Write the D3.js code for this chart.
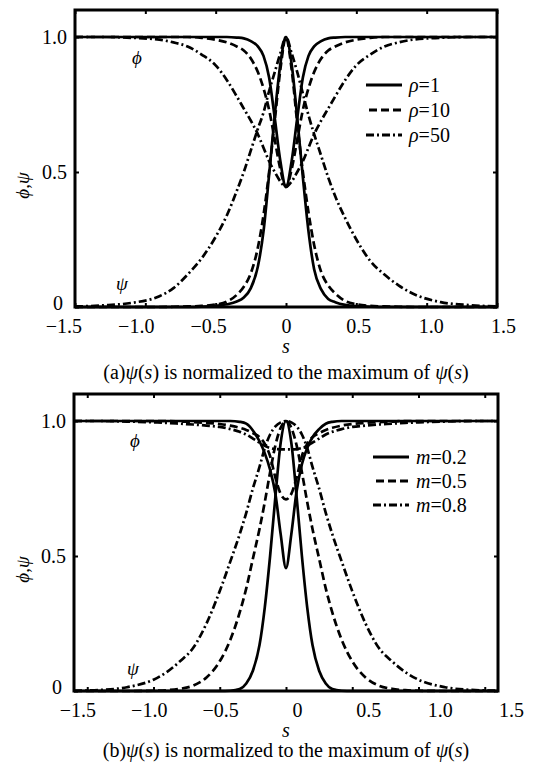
<!DOCTYPE html>
<html>
<head>
<meta charset="utf-8">
<script src="https://cdn.jsdelivr.net/npm/d3@7"></script>
<style>
  body { margin: 0; background: #fff; }
  text { font-family: 'Liberation Serif', 'Times New Roman', serif; fill: #000; white-space: pre; }
</style>
</head>
<body>
<div id="chart"></div>
<script>
// s values the curves were read at
let sTop = [-1.5, -1.3, -1.1, -0.9, -0.8, -0.7, -0.6, -0.5, -0.42, -0.35, -0.3, -0.25, -0.2, -0.16, -0.12, -0.08, -0.04, 0,
  0.04, 0.08, 0.12, 0.16, 0.2, 0.25, 0.3, 0.35, 0.42, 0.5, 0.6, 0.7, 0.8, 0.9, 1.1, 1.3, 1.5]
let sBottom = [-1.6, -1.4, -1.2, -1.0, -0.9, -0.8, -0.7, -0.6, -0.5, -0.42, -0.35, -0.3, -0.25, -0.2, -0.16, -0.12, -0.08, -0.04, 0,
  0.04, 0.08, 0.12, 0.16, 0.2, 0.25, 0.3, 0.35, 0.42, 0.5, 0.6, 0.7, 0.8, 0.9, 1.0, 1.2, 1.4, 1.6]

// (a) rho = 1, 10, 50
let psiRho1 = [0, 0, 0, 0, 0, 0, 0.001, 0.004, 0.01, 0.02, 0.035, 0.07, 0.15, 0.28, 0.49, 0.71, 0.9, 1.0,
  0.9, 0.7, 0.48, 0.28, 0.14, 0.065, 0.03, 0.018, 0.008, 0.003, 0.001, 0, 0, 0, 0, 0, 0]
let phiRho1 = [1, 1, 1, 1, 1, 1, 1, 1, 1, 0.998, 0.995, 0.985, 0.965, 0.93, 0.85, 0.7, 0.54, 0.445,
  0.54, 0.7, 0.85, 0.93, 0.965, 0.985, 0.995, 0.998, 1, 1, 1, 1, 1, 1, 1, 1, 1]
let psiRho10 = [0, 0, 0, 0, 0.001, 0.002, 0.004, 0.009, 0.02, 0.045, 0.075, 0.125, 0.22, 0.34, 0.5, 0.69, 0.88, 1.0,
  0.88, 0.68, 0.5, 0.35, 0.23, 0.13, 0.08, 0.05, 0.022, 0.01, 0.004, 0.002, 0.001, 0, 0, 0, 0]
let phiRho10 = [1, 1, 1, 1, 1, 1, 0.997, 0.99, 0.98, 0.965, 0.95, 0.92, 0.87, 0.81, 0.73, 0.62, 0.51, 0.445,
  0.51, 0.62, 0.73, 0.81, 0.87, 0.92, 0.95, 0.965, 0.98, 0.99, 0.997, 1, 1, 1, 1, 1, 1]
let psiRho50 = [0.002, 0.006, 0.015, 0.04, 0.07, 0.12, 0.18, 0.26, 0.34, 0.43, 0.5, 0.58, 0.66, 0.72, 0.8, 0.87, 0.94, 1.0,
  0.94, 0.87, 0.79, 0.71, 0.64, 0.56, 0.48, 0.41, 0.33, 0.25, 0.17, 0.12, 0.08, 0.05, 0.018, 0.007, 0.002]
let phiRho50 = [1, 1, 0.997, 0.99, 0.98, 0.965, 0.935, 0.895, 0.84, 0.78, 0.735, 0.69, 0.64, 0.59, 0.54, 0.5, 0.465, 0.445,
  0.465, 0.5, 0.54, 0.59, 0.64, 0.69, 0.735, 0.78, 0.84, 0.895, 0.935, 0.965, 0.98, 0.99, 0.997, 1, 1]

// (b) m = 0.2, 0.5, 0.8
let psiM02 = [0, 0, 0, 0, 0, 0, 0, 0, 0, 0.001, 0.007, 0.028, 0.075, 0.17, 0.31, 0.5, 0.72, 0.92, 1.0,
  0.92, 0.72, 0.5, 0.31, 0.17, 0.075, 0.028, 0.007, 0.001, 0, 0, 0, 0, 0, 0, 0, 0, 0]
let phiM02 = [1, 1, 1, 1, 1, 1, 1, 1, 1, 1, 0.997, 0.99, 0.965, 0.925, 0.88, 0.82, 0.73, 0.58, 0.455,
  0.58, 0.74, 0.84, 0.9, 0.94, 0.97, 0.99, 0.997, 1, 1, 1, 1, 1, 1, 1, 1, 1, 1]
let psiM05 = [0, 0, 0, 0.001, 0.003, 0.008, 0.02, 0.05, 0.11, 0.19, 0.29, 0.38, 0.49, 0.6, 0.7, 0.81, 0.91, 0.975, 1.0,
  0.975, 0.91, 0.81, 0.7, 0.6, 0.49, 0.38, 0.29, 0.19, 0.11, 0.05, 0.02, 0.008, 0.003, 0.001, 0, 0, 0]
let phiM05 = [1, 1, 1, 1, 1, 0.998, 0.996, 0.993, 0.989, 0.983, 0.975, 0.967, 0.955, 0.94, 0.915, 0.87, 0.79, 0.73, 0.71,
  0.73, 0.79, 0.87, 0.915, 0.94, 0.955, 0.967, 0.975, 0.983, 0.989, 0.993, 0.996, 0.998, 1, 1, 1, 1, 1]
let psiM08 = [0.001, 0.004, 0.014, 0.042, 0.07, 0.11, 0.16, 0.25, 0.37, 0.48, 0.58, 0.66, 0.75, 0.83, 0.9, 0.95, 0.98, 0.995, 1.0,
  0.995, 0.98, 0.95, 0.9, 0.83, 0.75, 0.66, 0.58, 0.48, 0.37, 0.25, 0.16, 0.11, 0.07, 0.042, 0.014, 0.004, 0.001]
let phiM08 = [1, 1, 0.998, 0.995, 0.993, 0.99, 0.987, 0.983, 0.978, 0.97, 0.96, 0.95, 0.935, 0.92, 0.908, 0.9, 0.896, 0.895, 0.895,
  0.895, 0.896, 0.9, 0.908, 0.92, 0.935, 0.95, 0.96, 0.97, 0.978, 0.983, 0.987, 0.99, 0.993, 0.995, 0.998, 1, 1]

let xTickValues = [-1.5, -1, -0.5, 0, 0.5, 1, 1.5]
let xTickLabels = ['\u22121.5', '\u22121.0', '\u22120.5', '0', '0.5', '1.0', '1.5']
let yTickValues = [0, 0.5, 1]
let yTickLabels = ['0', '0.5', '1.0']
let rhoLabels = ['1', '10', '50']
let mLabels = ['0.2', '0.5', '0.8']

let width = 552
let height = 770
let dashes = [null, '8,4', '8,3,2,3']

let svg = d3
  .select('#chart')
  .append('svg')
  .attr('width', width)
  .attr('height', height)

svg.append('rect').attr('width', width).attr('height', height).attr('fill', '#fff')

function addRich(sel, parts) {
  parts.forEach(p => {
    sel.append('tspan').attr('font-style', p[1] ? 'italic' : 'normal').text(p[0])
  })
  return sel
}

function panel(cfg) {
  let g = svg.append('g')
  let x = d3.scaleLinear().domain(cfg.xDomain).range(cfg.xRange)
  let y = d3.scaleLinear().domain([0, 1.1]).range([cfg.y0, cfg.y0 - 297])
  // the printed labels sit a little off the tick marks, so they get their own scale
  let xLab = d3.scaleLinear().domain([-1.5, 1.5]).range(cfg.labelRange)

  let line = d3
    .line()
    .x(d => x(d[0]))
    .y(d => y(d[1]))
    .curve(d3.curveMonotoneX)

  cfg.curves.forEach((c, i) => {
    ;[c.psi, c.phi].forEach(vals => {
      g.append('path')
        .datum(d3.zip(cfg.s, vals))
        .attr('d', line)
        .attr('fill', 'none')
        .attr('stroke', '#000')
        .attr('stroke-width', 2.7)
        .attr('stroke-dasharray', dashes[i])
    })
  })

  // frame
  g.append('rect')
    .attr('x', x.range()[0])
    .attr('y', y(1.1))
    .attr('width', x.range()[1] - x.range()[0])
    .attr('height', y(0) - y(1.1))
    .attr('fill', 'none')
    .attr('stroke', '#000')
    .attr('stroke-width', 3)

  // inward ticks on all four sides
  let ticks = [
    [d3.axisTop(x).tickValues(xTickValues), `translate(0,${y(0)})`],
    [d3.axisBottom(x).tickValues(xTickValues), `translate(0,${y(1.1)})`],
    [d3.axisRight(y).tickValues(yTickValues), `translate(${x.range()[0]},0)`],
    [d3.axisLeft(y).tickValues(yTickValues), `translate(${x.range()[1]},0)`]
  ]
  ticks.forEach(t => {
    let a = g.append('g').attr('transform', t[1]).call(t[0].tickSize(4).tickFormat(''))
    a.select('.domain').remove()
    a.selectAll('line').attr('stroke-width', 2)
  })

  // tick labels
  let xa = g
    .append('g')
    .attr('transform', `translate(0,${y(0) + 12})`)
    .call(d3.axisBottom(xLab).tickValues(xTickValues).tickSize(0).tickPadding(0)
      .tickFormat((d, i) => xTickLabels[i]))
  xa.select('.domain').remove()
  xa.selectAll('text')
    .attr('font-size', 20)
    .attr('font-family', null)
    .attr('dx', d => (d < 0 ? '-0.28em' : null))

  let ya = g
    .append('g')
    .attr('transform', `translate(${x.range()[0] - 8},0)`)
    .call(d3.axisLeft(y).tickValues(yTickValues).tickSize(0).tickPadding(0)
      .tickFormat((d, i) => yTickLabels[i]))
  ya.select('.domain').remove()
  ya.selectAll('text')
    .attr('font-size', 20)
    .attr('font-family', null)
    .attr('dy', d => (d === 0 ? '0.12em' : '0.32em'))
    .attr('dx', d => (d === 0 ? '-0.2em' : null))

  // axis titles
  addRich(
    g.append('text')
      .attr('transform', `translate(29,${y(0.45)}) rotate(-90)`)
      .attr('text-anchor', 'middle')
      .attr('font-size', 19),
    [['\u03d5', true], [',', false], ['\u03c8', true]]
  )
  g.append('text')
    .attr('x', x(0))
    .attr('y', y(0) + 46)
    .attr('text-anchor', 'middle')
    .attr('font-size', 20)
    .attr('font-style', 'italic')
    .text('s')

  addRich(
    g.append('text')
      .attr('x', x(0))
      .attr('y', y(0) + cfg.captionGap)
      .attr('text-anchor', 'middle')
      .attr('font-size', 20),
    [[cfg.tag, false], ['\u03c8', true], ['(', false], ['s', true],
     [') is normalized to the maximum of ', false], ['\u03c8', true], ['(', false], ['s', true], [')', false]]
  )

  // curve annotations
  g.append('text')
    .attr('x', cfg.phiAt[0]).attr('y', cfg.phiAt[1])
    .attr('text-anchor', 'middle').attr('dy', '0.35em')
    .attr('font-size', 19).attr('font-style', 'italic')
    .text('\u03d5')
  g.append('text')
    .attr('x', cfg.psiAt[0]).attr('y', cfg.psiAt[1])
    .attr('text-anchor', 'middle').attr('dy', '0.35em')
    .attr('font-size', 19).attr('font-style', 'italic')
    .text('\u03c8')

  // legend
  let lg = g.append('g').attr('transform', `translate(${cfg.legend[0]},${cfg.legend[1]})`)
  cfg.legendLabels.forEach((lab, i) => {
    lg.append('line')
      .attr('x1', i === 1 ? 3 : 0).attr('x2', 36)
      .attr('y1', i * cfg.legendStep).attr('y2', i * cfg.legendStep)
      .attr('stroke', '#000')
      .attr('stroke-width', 3)
      .attr('stroke-dasharray', dashes[i])
    addRich(
      lg.append('text').attr('x', 43).attr('y', i * cfg.legendStep).attr('dy', '0.33em').attr('font-size', 20),
      [[cfg.legendSymbol, true], ['=' + lab, false]]
    )
  })
}

panel({
  s: sTop,
  xDomain: [-1.5, 1.5],
  xRange: [75, 497],
  labelRange: [69, 503],
  y0: 307,
  curves: [
    { psi: psiRho1, phi: phiRho1 },
    { psi: psiRho10, phi: phiRho10 },
    { psi: psiRho50, phi: phiRho50 }
  ],
  tag: '(a)',
  captionGap: 72,
  phiAt: [137, 57],
  psiAt: [122, 283],
  legend: [366, 85],
  legendStep: 25,
  legendSymbol: '\u03c1',
  legendLabels: rhoLabels
})

panel({
  s: sBottom,
  xDomain: [-1.6, 1.6],
  xRange: [74, 498],
  labelRange: [83, 511],
  y0: 691,
  curves: [
    { psi: psiM02, phi: phiM02 },
    { psi: psiM05, phi: phiM05 },
    { psi: psiM08, phi: phiM08 }
  ],
  tag: '(b)',
  captionGap: 66,
  phiAt: [135, 440],
  psiAt: [133, 668],
  legend: [373, 457],
  legendStep: 24,
  legendSymbol: 'm',
  legendLabels: mLabels
})
</script>
</body>
</html>
